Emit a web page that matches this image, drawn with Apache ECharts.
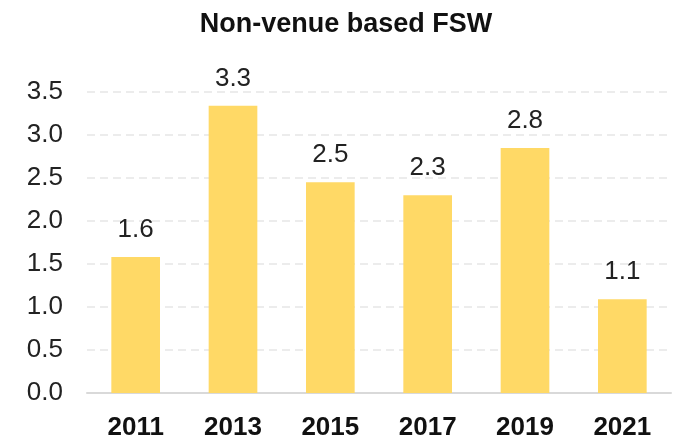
<!DOCTYPE html>
<html>
<head>
<meta charset="utf-8">
<script src="https://cdn.jsdelivr.net/npm/echarts@6/dist/echarts.min.js"></script>
<style>
  html, body { margin: 0; padding: 0; background: #fff; }
  #chart { width: 692px; height: 448px; }
</style>
</head>
<body>
<div id="chart"></div>
<script>
// data
var years = ['2011', '2013', '2015', '2017', '2019', '2021'];
var values = [1.58, 3.34, 2.45, 2.30, 2.85, 1.09];
var valueLabels = ['1.6', '3.3', '2.5', '2.3', '2.8', '1.1'];

(function(){
    var myChart = echarts.init(document.getElementById('chart'));
    var font = '"Liberation Sans", Arial, sans-serif';
    var option = {
        animation: false,
        title: {
            text: 'Non-venue based FSW',
            left: 'center',
            top: 6,
            textStyle: { fontFamily: font, fontSize: 27, fontWeight: 'bold', color: '#111' }
        },
        grid: { left: 87, right: 21, top: 92, bottom: 55 },
        xAxis: {
            type: 'category',
            data: years,
            axisTick: { show: false },
            axisLine: { lineStyle: { color: '#d9d9d9', width: 2 } },
            axisLabel: {
                margin: 22,
                fontFamily: font, fontSize: 26, fontWeight: 'bold', color: '#111'
            }
        },
        yAxis: {
            type: 'value',
            min: 0,
            max: 3.5,
            interval: 0.5,
            axisLine: { show: false },
            axisTick: { show: false },
            axisLabel: {
                margin: 24,
                fontFamily: font, fontSize: 26, color: '#222',
                formatter: function(v){ return v.toFixed(1); }
            },
            splitLine: { lineStyle: { color: '#e6e6e6', width: 1.5, type: [8, 5] } }
        },
        series: [{
            type: 'bar',
            data: values,
            barWidth: '50%',
            itemStyle: { color: '#FFD966' },
            label: {
                show: true,
                position: 'top',
                distance: 14,
                fontFamily: font, fontSize: 26, color: '#222',
                formatter: function(p){ return valueLabels[p.dataIndex]; }
            }
        }]
    };
    myChart.setOption(option);
})();
</script>
</body>
</html>
